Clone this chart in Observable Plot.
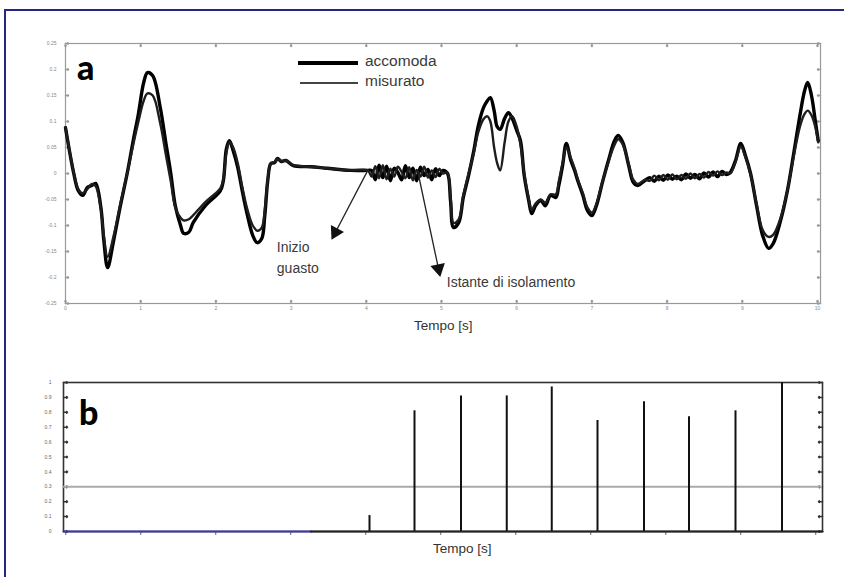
<!DOCTYPE html>
<html>
<head>
<meta charset="utf-8">
<script src="https://cdn.jsdelivr.net/npm/d3@7"></script>
<script src="https://cdn.jsdelivr.net/npm/@observablehq/plot@0.6"></script>
<style>
  html, body { margin: 0; padding: 0; background: #fff; overflow: hidden; }
  #page { position: relative; width: 844px; height: 577px; overflow: hidden; font-family: "Liberation Sans", Arial, sans-serif; }
  #border { position: absolute; left: 4px; top: 9px; width: 900px; height: 700px; border: 2px solid #25258a; box-sizing: border-box; }
  .abs { position: absolute; }
  .lbl { position: absolute; color: #333; font-size: 13.5px; white-space: nowrap; }
  .big { position: absolute; font-family: "Lato", "DejaVu Sans", sans-serif; font-weight: 900; font-size: 34px; color: #000; line-height: 1; }
  svg { overflow: visible; }
</style>
</head>
<body>
<div id="page">
  <div id="border"></div>
  <div id="panelA" class="abs" style="left:0;top:0"></div>
  <div id="panelB" class="abs" style="left:0;top:340px"></div>
  <div class="big" style="left:77px;top:50px">a</div>
  <div class="big" style="left:79px;top:395px">b</div>
  <div class="abs" style="left:298px;top:61px;width:60px;height:4px;background:#000"></div>
  <div class="abs" style="left:300px;top:82px;width:58px;height:2px;background:#444"></div>
  <div class="lbl" style="left:365px;top:52px;font-size:15.5px;color:#3a3a3a">accomoda</div>
  <div class="lbl" style="left:365px;top:72px;font-size:15.5px;color:#3a3a3a">misurato</div>
  <div class="lbl" style="left:414px;top:318px">Tempo [s]</div>
  <div class="lbl" style="left:433px;top:541px">Tempo [s]</div>
</div>
<script>
// ---- Panel a: time (s) and series values ----
const tempo = [
  0, 0.11, 0.17, 0.23, 0.29, 0.35, 0.40, 0.47, 0.51, 0.56, 0.64, 0.73, 0.82, 0.90, 0.97, 1.04, 1.09, 1.16, 1.26, 1.33,
  1.40, 1.46, 1.53, 1.57, 1.64, 1.70, 1.86, 2.06, 2.10, 2.14, 2.18, 2.23, 2.29, 2.35, 2.42, 2.49, 2.55, 2.61, 2.65, 2.69,
  2.73, 2.78, 2.82, 2.87, 2.93, 3.03, 3.26, 3.48, 3.79, 4.02,
  4.07, 4.12, 4.17, 4.22, 4.27, 4.32, 4.37, 4.42, 4.47, 4.52, 4.57, 4.62, 4.67, 4.72, 4.77, 4.82, 4.87, 4.92, 4.97, 5.02,
  5.08, 5.12, 5.16, 5.23, 5.29, 5.36, 5.43, 5.49, 5.56, 5.61, 5.65, 5.70, 5.74, 5.78, 5.84, 5.89, 5.94, 6.00, 6.05, 6.10,
  6.16, 6.20, 6.25, 6.32, 6.38, 6.45, 6.52, 6.56, 6.61, 6.66, 6.72, 6.77, 6.81, 6.88, 6.94, 7.00, 7.06, 7.14, 7.22, 7.30,
  7.35, 7.41, 7.49, 7.55, 7.61, 7.71,
  7.77, 7.83, 7.89, 7.95, 8.01, 8.07, 8.13, 8.19, 8.25, 8.31, 8.37, 8.43, 8.49, 8.55, 8.61, 8.67, 8.73, 8.79,
  8.84, 8.91, 8.98, 9.04, 9.11, 9.19, 9.27, 9.35, 9.41, 9.51, 9.60, 9.68, 9.77, 9.83, 9.87, 9.92, 9.97, 10.01
];
const accomoda = [
  0.088, 0, -0.033, -0.042, -0.027, -0.023, -0.019, -0.065, -0.129, -0.181, -0.129, -0.062, 0, 0.063, 0.115, 0.175, 0.194, 0.188, 0.127, 0.063,
  0, -0.062, -0.100, -0.115, -0.113, -0.094, -0.062, -0.033, -0.013, 0.048, 0.063, 0.044, 0.012, -0.033, -0.081, -0.119, -0.133, -0.125, -0.081, -0.013,
  0.019, 0.021, 0.029, 0.023, 0.025, 0.015, 0.013, 0.010, 0.006, 0.006,
  0.006, -0.012, 0.016, -0.008, 0.014, -0.014, 0.010, 0.002, -0.012, 0.015, -0.008, 0.010, -0.014, 0.012, -0.004, 0.008, -0.012, 0.009, -0.004, 0.006,
  0, -0.052, -0.104, -0.094, -0.046, -0.004, 0.044, 0.092, 0.127, 0.140, 0.146, 0.121, 0.090, 0.085, 0.106, 0.117, 0.106, 0.083, 0.063, -0.004,
  -0.052, -0.077, -0.062, -0.052, -0.062, -0.042, -0.046, -0.023, 0.015, 0.058, 0.025, 0.006, -0.013, -0.042, -0.071, -0.081, -0.062, -0.017, 0.025, 0.063,
  0.073, 0.060, 0.015, -0.017, -0.023, -0.013,
  -0.008, -0.015, -0.005, -0.013, -0.003, -0.011, -0.005, -0.012, -0.001, -0.009, -0.002, -0.010, 0.001, -0.007, 0.003, -0.006, 0.004, -0.002,
  0.002, 0.025, 0.058, 0.035, 0, -0.062, -0.119, -0.144, -0.135, -0.090, -0.033, 0.035, 0.115, 0.160, 0.175, 0.150, 0.102, 0.063
];
const misurato = [
  0.088, 0.002, -0.030, -0.038, -0.030, -0.020, -0.024, -0.068, -0.120, -0.160, -0.120, -0.058, 0, 0.055, 0.100, 0.140, 0.154, 0.150, 0.096, 0.040,
  -0.015, -0.065, -0.085, -0.090, -0.088, -0.080, -0.055, -0.028, -0.010, 0.040, 0.060, 0.050, 0.020, -0.025, -0.070, -0.100, -0.110, -0.104, -0.070, -0.010,
  0.019, 0.022, 0.028, 0.024, 0.025, 0.016, 0.013, 0.010, 0.006, 0.006,
  -0.006, 0.014, -0.009, 0.016, -0.011, 0.009, -0.006, 0.013, 0.003, -0.009, 0.012, -0.013, 0.007, -0.006, 0.013, -0.008, 0.006, -0.007, 0.009, 0.000,
  0.002, -0.045, -0.095, -0.088, -0.042, 0.000, 0.040, 0.080, 0.105, 0.110, 0.100, 0.050, 0.020, 0.006, 0.060, 0.100, 0.110, 0.090, 0.055, 0.000,
  -0.048, -0.070, -0.058, -0.050, -0.056, -0.040, -0.040, -0.015, 0.020, 0.050, 0.030, 0.010, -0.010, -0.038, -0.065, -0.075, -0.058, -0.015, 0.022, 0.055,
  0.066, 0.056, 0.018, -0.012, -0.020, -0.012,
  -0.014, -0.004, -0.013, -0.003, -0.012, -0.002, -0.011, -0.003, -0.010, 0.000, -0.009, -0.001, -0.008, 0.003, -0.004, 0.004, -0.003, 0.002,
  0.000, 0.022, 0.052, 0.032, -0.002, -0.058, -0.108, -0.122, -0.118, -0.085, -0.032, 0.030, 0.092, 0.115, 0.121, 0.112, 0.090, 0.060
];
const xTicks = [0, 1, 2, 3, 4, 5, 6, 7, 8, 9, 10];
const yTicksA = [-0.25, -0.2, -0.15, -0.1, -0.05, 0, 0.05, 0.1, 0.15, 0.2, 0.25];

// annotations (arrow tails/heads in data units)
const noteText = ["Inizio\nguasto", "Istante di isolamento"];
const noteT = [2.81, 5.07];
const noteV = [-0.158, -0.206];
const arrowT1 = [4.02, 4.69];
const arrowV1 = [0.006, 0.0];
const arrowT2 = [3.59, 4.96];
const arrowV2 = [-0.113, -0.183];

// ---- Panel b ----
const spikeTempo = [4.05, 4.65, 5.27, 5.88, 6.48, 7.09, 7.71, 8.31, 8.93, 9.55];
const spikeAmpiezza = [0.107, 0.81, 0.91, 0.91, 0.97, 0.745, 0.87, 0.77, 0.81, 1.0];
const soglia = 0.3;
const yTicksB = [0, 0.1, 0.2, 0.3, 0.4, 0.5, 0.6, 0.7, 0.8, 0.9, 1];
const zeroBlu = [-0.03, 3.27];
const zeroNero = [3.27, 10.09];

// ---- build ----
const accData = tempo.map((t, i) => ({t, v: accomoda[i]}));
const misData = tempo.map((t, i) => ({t, v: misurato[i]}));
const notes = noteText.map((text, i) => ({text, t: noteT[i], v: noteV[i]}));

const W = 844, mL = 65, mR = 24, mT = 43, H = 340, mB = 37;
const xDomA = [0, 10.04], yDomA = [-0.25, 0.25];
const pxT = (W - mL - mR) / (xDomA[1] - xDomA[0]);
const pxV = (H - mT - mB) / (yDomA[1] - yDomA[0]);
const arrows = arrowT1.map((t1, i) => {
  const dx = (arrowT2[i] - t1) * pxT, dy = -(arrowV2[i] - arrowV1[i]) * pxV;
  return {t1, v1: arrowV1[i], t2: arrowT2[i], v2: arrowV2[i], rot: Math.atan2(dx, -dy) * 180 / Math.PI};
});

const gray = "#999";
const chartA = Plot.plot({
  width: W, height: H, marginLeft: mL, marginRight: mR, marginTop: mT, marginBottom: mB,
  style: {fontSize: "5px", color: "#888", background: "transparent", fontFamily: "Liberation Sans, Arial"},
  x: {domain: xDomA, ticks: xTicks, tickSize: 0, tickPadding: 3, label: null},
  y: {domain: yDomA, ticks: yTicksA, tickSize: 0, tickPadding: 9, label: null, tickFormat: d => String(d)},
  marks: [
    Plot.frame({stroke: gray, strokeWidth: 1.2}),
    Plot.vector(yTicksA, {y: d => d, frameAnchor: "left", length: 3, rotate: 90, anchor: "start", stroke: gray}),
    Plot.vector(yTicksA, {y: d => d, frameAnchor: "right", length: 3, rotate: -90, anchor: "start", stroke: gray}),
    Plot.vector(xTicks, {x: d => d, frameAnchor: "top", length: 3, rotate: 180, anchor: "start", stroke: gray}),
    Plot.vector(xTicks, {x: d => d, frameAnchor: "bottom", length: 3, rotate: 0, anchor: "start", stroke: gray}),
    Plot.line(accData, {x: "t", y: "v", stroke: "#000", strokeWidth: 3.4, curve: "catmull-rom"}),
    Plot.line(misData, {x: "t", y: "v", stroke: "#1e1e1e", strokeWidth: 2.4, curve: "catmull-rom"}),
    Plot.link(arrows, {x1: "t1", y1: "v1", x2: "t2", y2: "v2", stroke: "#222", strokeWidth: 1.3}),
    Plot.dot(arrows, {x: "t2", y: "v2", symbol: "triangle", r: 5.5, fill: "#111", stroke: "none", rotate: "rot"}),
    Plot.text(notes, {x: "t", y: "v", text: "text", textAnchor: "start", fontSize: 14, fill: "#3a3a3a", lineHeight: 1.5, fontFamily: "Liberation Sans, Arial"})
  ]
});
document.getElementById("panelA").appendChild(chartA);

const dark = "#333";
const chartB = Plot.plot({
  width: W, height: 210, marginLeft: 63, marginRight: 22, marginTop: 42, marginBottom: 19,
  style: {fontSize: "5px", color: "#666", background: "transparent", fontFamily: "Liberation Sans, Arial"},
  x: {domain: [-0.03, 10.09], ticks: xTicks, tickSize: 4, tickFormat: () => "", label: null},
  y: {domain: [0, 1], ticks: yTicksB, tickSize: 0, tickPadding: 12, label: null, tickFormat: d => String(d)},
  marks: [
    Plot.frame({stroke: dark, strokeWidth: 1.6}),
    Plot.vector(yTicksB, {y: d => d, frameAnchor: "left", length: 4, rotate: 90, anchor: "start", stroke: dark}),
    Plot.vector(yTicksB, {y: d => d, frameAnchor: "right", length: 4, rotate: -90, anchor: "start", stroke: dark}),
    Plot.ruleY([soglia], {stroke: "#aaa", strokeWidth: 2}),
    Plot.ruleX(spikeTempo.map((t, i) => ({t, a: spikeAmpiezza[i]})), {x: "t", y1: 0, y2: "a", stroke: "#111", strokeWidth: 2}),
    Plot.line(zeroBlu.map(t => ({t, v: 0})), {x: "t", y: "v", stroke: "#3a3aa8", strokeWidth: 2}),
    Plot.line(zeroNero.map(t => ({t, v: 0})), {x: "t", y: "v", stroke: "#222", strokeWidth: 2})
  ]
});
document.getElementById("panelB").appendChild(chartB);
</script>
</body>
</html>
